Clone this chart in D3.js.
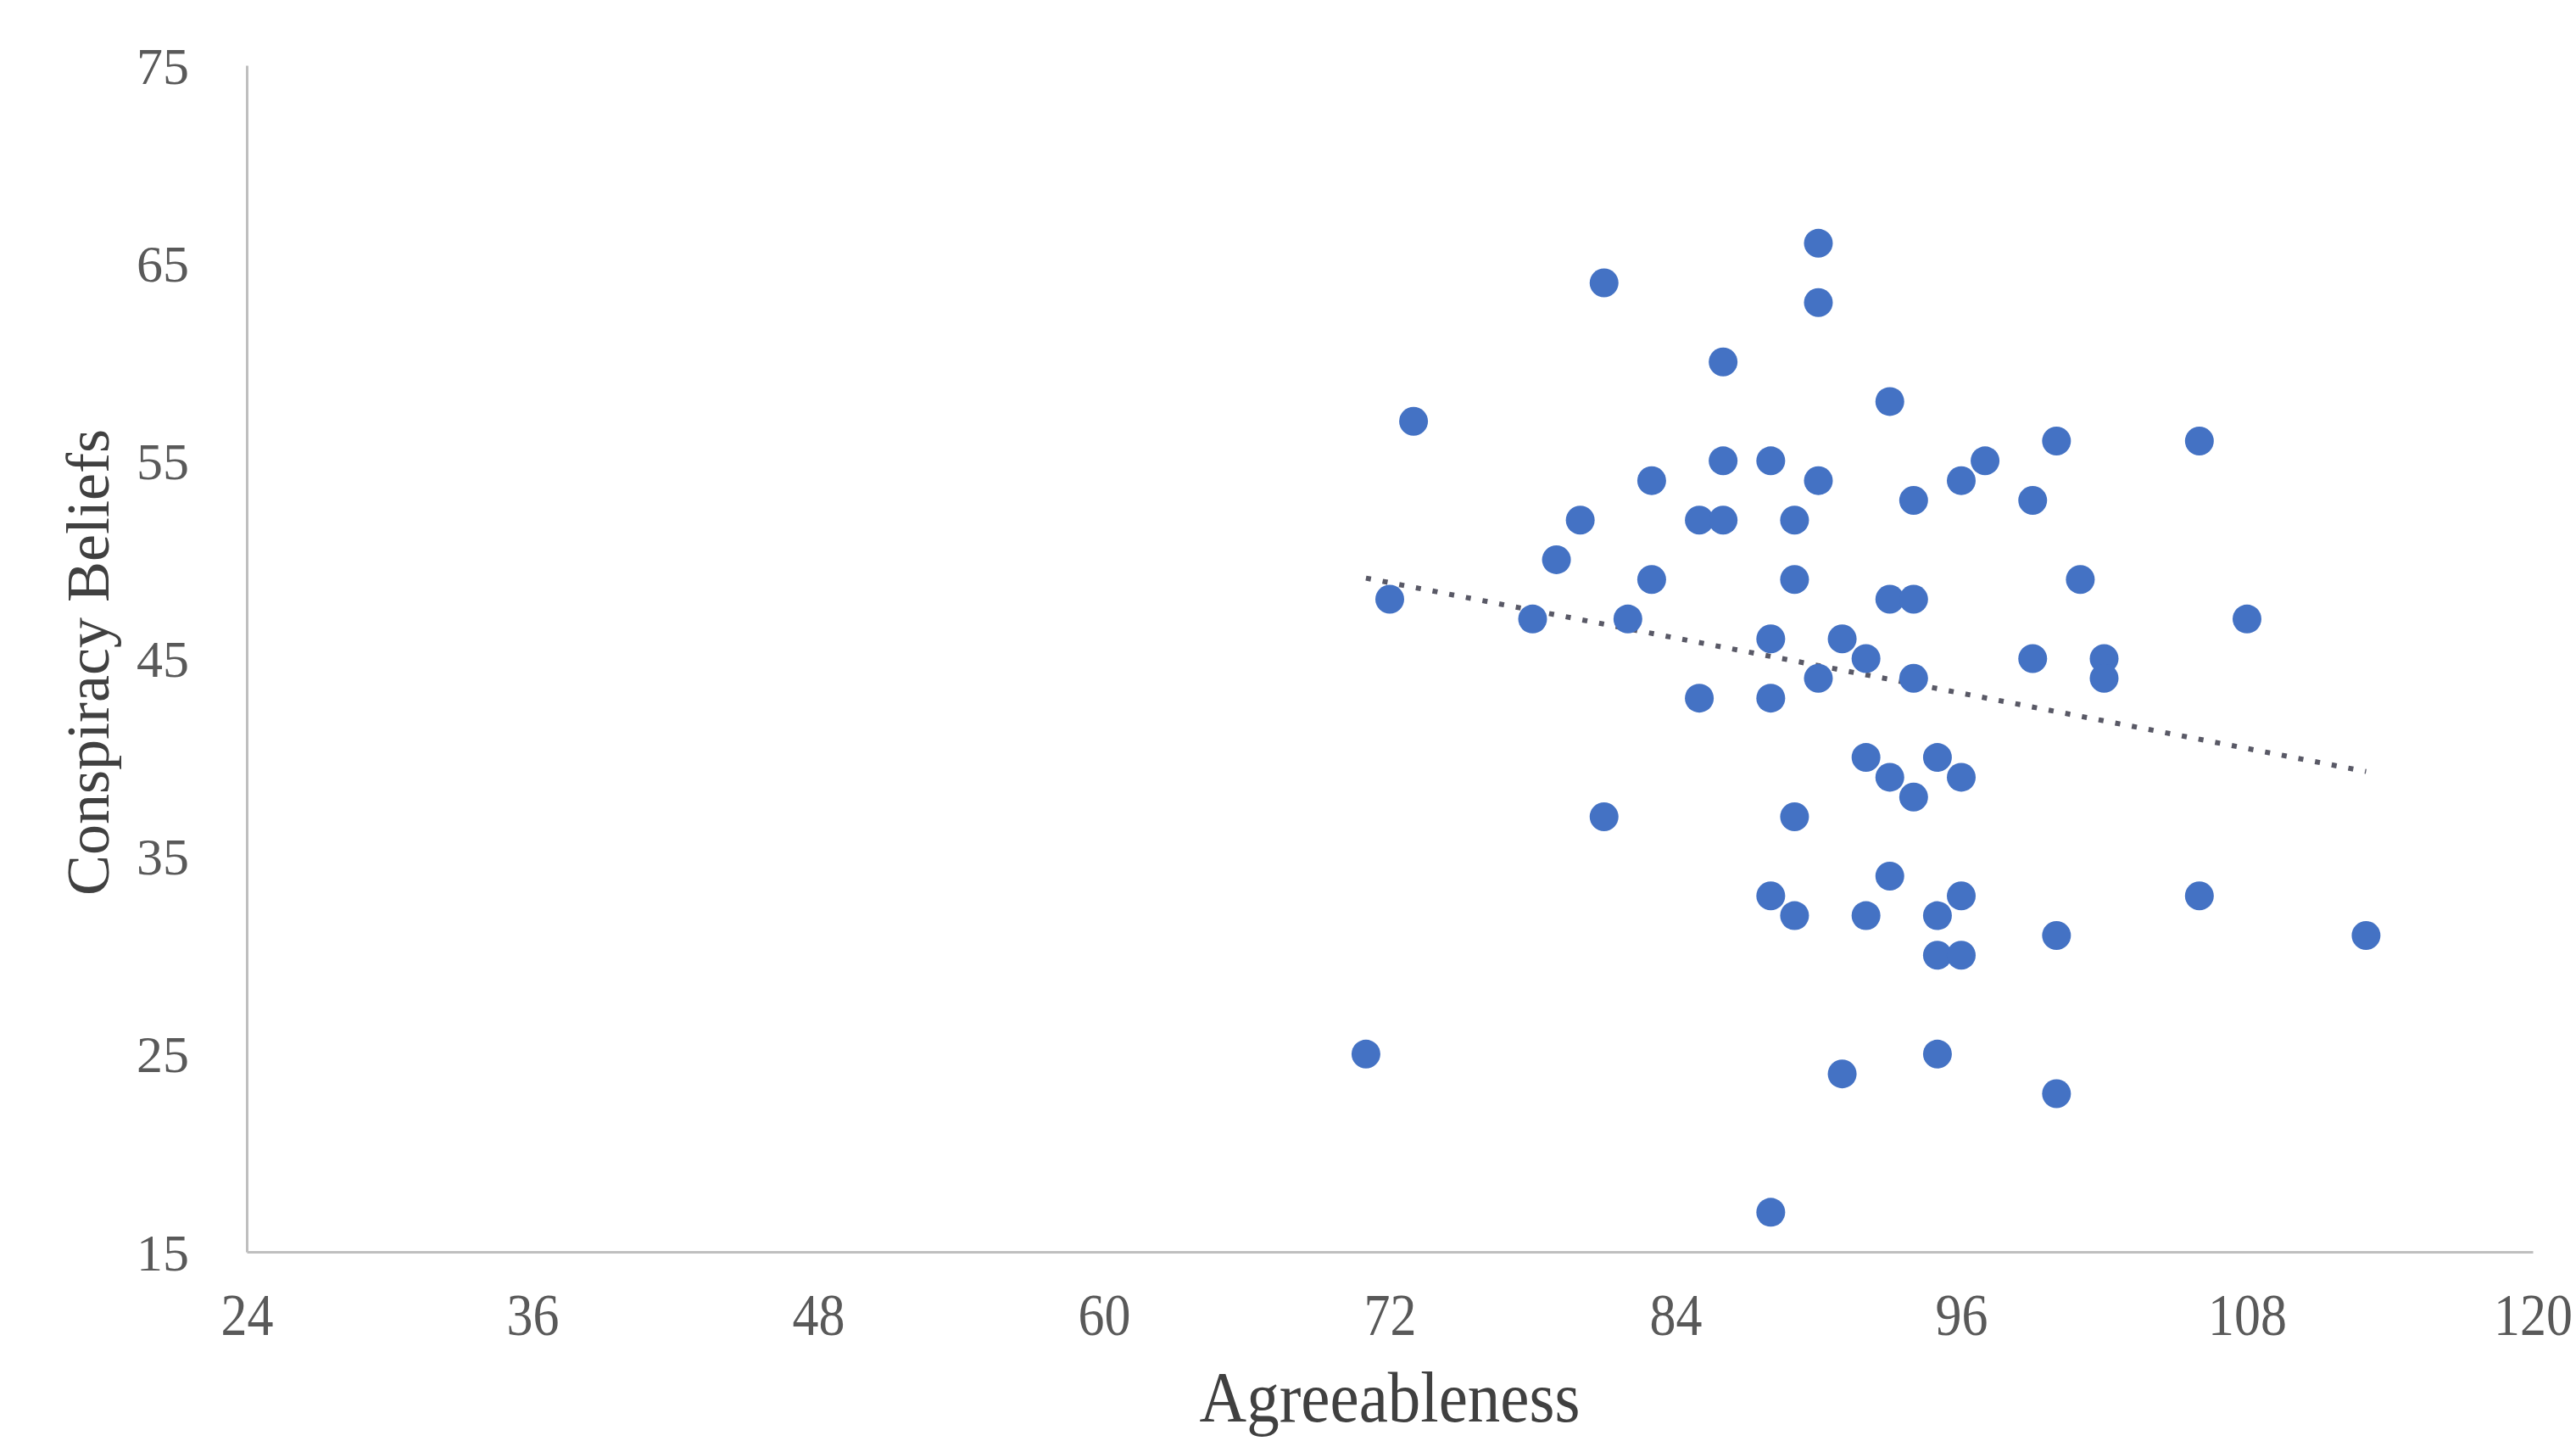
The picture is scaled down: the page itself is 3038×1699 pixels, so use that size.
<!DOCTYPE html>
<html>
<head>
<meta charset="utf-8">
<script src="https://cdn.jsdelivr.net/npm/d3@7"></script>
<style>
  html, body { margin: 0; padding: 0; background: #ffffff; }
  svg { display: block; }
</style>
</head>
<body>
<svg id="chart" width="3038" height="1699"></svg>
<script>
// ---- data ----
const agreeableness = [90, 81, 90, 86, 93, 73, 100, 106, 86, 88, 97, 83, 90, 96, 94, 99, 80, 85, 86, 89,
  79, 83, 89, 101, 72, 93, 94, 78, 82, 108, 88, 91, 92, 99, 102, 90, 94, 102, 85, 88,
  92, 95, 93, 96, 94, 81, 89, 93, 88, 96, 106, 89, 92, 95, 100, 113, 95, 96, 71, 95, 91, 100, 88];
const conspiracy = [66, 64, 63, 60, 58, 57, 56, 56, 55, 55, 55, 54, 54, 54, 53, 53, 52, 52, 52, 52,
  50, 49, 49, 49, 48, 48, 48, 47, 47, 47, 46, 46, 45, 45, 45, 44, 44, 44, 43, 43,
  40, 40, 39, 39, 38, 37, 37, 34, 33, 33, 33, 32, 32, 32, 31, 31, 30, 30, 25, 25, 24, 23, 17];
const trendX = [71, 113];
const trendY = [49.07, 39.29];
const xTicks = [24, 36, 48, 60, 72, 84, 96, 108, 120];
const yTicks = [15, 25, 35, 45, 55, 65, 75];
const xTitle = "Agreeableness";
const yTitle = "Conspiracy Beliefs";

(function () {
  const svg = d3.select("#chart");
  const pLeft = 291, pRight = 2987, pTop = 77, pBottom = 1476;

  const x = d3.scaleLinear().domain([24, 120]).range([pLeft, pRight]);
  const y = d3.scaleLinear().domain([15, 75]).range([pBottom, pTop]);

  const serif = "'Liberation Serif', 'Times New Roman', serif";
  const axisColor = "#bfbfbf";
  const tickColor = "#595959";

  // x axis (no tick marks)
  const xAxis = svg.append("g")
    .attr("transform", `translate(0,${pBottom})`)
    .call(d3.axisBottom(x).tickValues(xTicks).tickSize(0).tickPadding(0).tickFormat(d3.format("d")));
  xAxis.select(".domain").attr("stroke", axisColor).attr("stroke-width", 3);
  xAxis.selectAll(".tick text")
    .attr("fill", tickColor)
    .style("font-family", serif)
    .style("font-size", "62px")
    .attr("dy", null)
    .attr("y", 0)
    .attr("transform", "translate(0,98) scale(1,1.12)")
    .attr("text-anchor", "middle");

  // y axis (no tick marks)
  const yAxis = svg.append("g")
    .attr("transform", `translate(${pLeft},0)`)
    .call(d3.axisLeft(y).tickValues(yTicks).tickSize(0).tickPadding(68).tickFormat(d3.format("d")));
  yAxis.select(".domain").attr("stroke", axisColor).attr("stroke-width", 3);
  yAxis.selectAll(".tick text")
    .attr("fill", tickColor)
    .style("font-family", serif)
    .style("font-size", "62px")
    .attr("dy", "0.34em");

  // dotted linear trendline
  const line = d3.line().x(d => x(d[0])).y(d => y(d[1]));
  svg.append("path")
    .datum(trendX.map((v, i) => [v, trendY[i]]))
    .attr("d", line)
    .attr("fill", "none")
    .attr("stroke", "#595966")
    .attr("stroke-width", 6)
    .attr("stroke-dasharray", "6 14");

  // points
  svg.append("g").selectAll("circle")
    .data(agreeableness.map((v, i) => [v, conspiracy[i]]))
    .join("circle")
    .attr("cx", d => x(d[0]))
    .attr("cy", d => y(d[1]))
    .attr("r", 17)
    .attr("fill", "#4472C4");

  // axis titles
  svg.append("text")
    .attr("transform", `translate(${(pLeft + pRight) / 2},1676) scale(1,1.1)`)
    .attr("text-anchor", "middle")
    .attr("fill", "#404040")
    .style("font-family", serif)
    .style("font-size", "77px")
    .text(xTitle);

  svg.append("text")
    .attr("transform", `translate(128,781) rotate(-90)`)
    .attr("text-anchor", "middle")
    .attr("fill", "#404040")
    .style("font-family", serif)
    .style("font-size", "72px")
    .text(yTitle);
})();
</script>
</body>
</html>
